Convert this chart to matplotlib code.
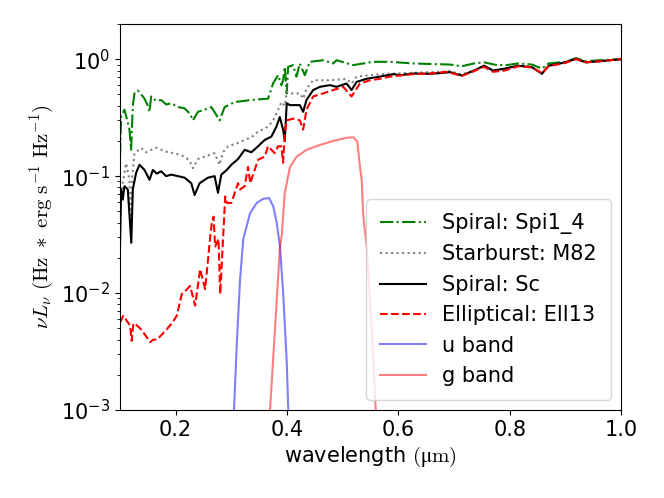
import numpy as np
import matplotlib
matplotlib.use('Agg')
import matplotlib.pyplot as plt

plt.rcParams['font.size'] = 15
plt.rcParams['mathtext.fontset'] = 'cm'

# template spectra (wavelength in micron, normalised nuLnu)
spi_wl = [0.100, 0.102, 0.108, 0.113, 0.117, 0.120, 0.123, 0.126, 0.132, 0.138,
          0.144, 0.150, 0.153, 0.156, 0.165, 0.174, 0.183, 0.192, 0.204, 0.216,
          0.226, 0.231, 0.240, 0.252, 0.264, 0.272, 0.279, 0.288, 0.306, 0.336,
          0.366, 0.375, 0.384, 0.390, 0.393, 0.396, 0.3995, 0.402, 0.411, 0.417,
          0.423, 0.432, 0.441, 0.465, 0.483, 0.489, 0.519, 0.555, 0.585, 0.626,
          0.657, 0.693, 0.714, 0.736, 0.754, 0.777, 0.795, 0.815, 0.840, 0.858,
          0.870, 0.900, 0.919, 0.937, 0.961, 1.0]
spi_flux = [0.147, 0.32, 0.37, 0.30, 0.25, 0.168, 0.40, 0.51, 0.54, 0.50,
            0.46, 0.40, 0.355, 0.48, 0.44, 0.448, 0.41, 0.42, 0.39, 0.38,
            0.34, 0.30, 0.355, 0.37, 0.39, 0.34, 0.30, 0.39, 0.43, 0.448,
            0.46, 0.62, 0.73, 0.60, 0.66, 0.86, 0.51, 0.86, 0.89, 0.71,
            0.92, 0.73, 0.95, 0.98, 0.92, 0.98, 0.89, 0.95, 0.95, 0.92,
            0.91, 0.90, 0.87, 0.92, 0.94, 0.89, 0.89, 0.92, 0.90, 0.83,
            0.92, 0.95, 1.02, 0.96, 0.98, 1.0]

m82_wl = [0.100, 0.105, 0.111, 0.117, 0.120, 0.122, 0.126, 0.132, 0.138, 0.147,
          0.156, 0.165, 0.174, 0.186, 0.198, 0.216, 0.225, 0.231, 0.240, 0.252,
          0.270, 0.279, 0.285, 0.294, 0.309, 0.324, 0.336, 0.348, 0.366, 0.375,
          0.384, 0.390, 0.396, 0.3995, 0.405, 0.423, 0.429, 0.435, 0.447, 0.477,
          0.507, 0.516, 0.525, 0.567, 0.627, 0.657, 0.693, 0.714, 0.736, 0.754,
          0.770, 0.791, 0.815, 0.840, 0.858, 0.870, 0.900, 0.919, 0.937, 0.961, 1.0]
m82_flux = [0.045, 0.087, 0.129, 0.093, 0.027, 0.10, 0.157, 0.165, 0.174, 0.160,
            0.168, 0.175, 0.168, 0.160, 0.157, 0.147, 0.135, 0.117, 0.140, 0.147,
            0.157, 0.125, 0.160, 0.18, 0.19, 0.204, 0.215, 0.24, 0.265, 0.30,
            0.368, 0.43, 0.40, 0.53, 0.51, 0.51, 0.46, 0.56, 0.66, 0.66,
            0.68, 0.62, 0.71, 0.745, 0.765, 0.775, 0.79, 0.74, 0.80, 0.88,
            0.80, 0.83, 0.88, 0.855, 0.76, 0.88, 0.94, 1.01, 0.94, 0.96, 1.0]

sc_wl = [0.100, 0.102, 0.105, 0.108, 0.114, 0.1203, 0.123, 0.129, 0.135, 0.144,
         0.153, 0.159, 0.166, 0.174, 0.183, 0.192, 0.204, 0.216, 0.228, 0.234,
         0.243, 0.258, 0.270, 0.276, 0.282, 0.291, 0.300, 0.312, 0.324, 0.336,
         0.348, 0.360, 0.372, 0.381, 0.387, 0.390, 0.393, 0.396, 0.3995, 0.405,
         0.423, 0.429, 0.435, 0.447, 0.459, 0.477, 0.489, 0.507, 0.516, 0.525,
         0.543, 0.567, 0.591, 0.603, 0.627, 0.657, 0.675, 0.693, 0.714, 0.736,
         0.754, 0.770, 0.791, 0.815, 0.840, 0.858, 0.870, 0.900, 0.919, 0.937,
         0.961, 1.0]
sc_flux = [0.025, 0.077, 0.063, 0.082, 0.077, 0.027, 0.077, 0.107, 0.125, 0.113,
           0.093, 0.113, 0.105, 0.110, 0.100, 0.103, 0.100, 0.097, 0.087, 0.069,
           0.087, 0.097, 0.100, 0.072, 0.103, 0.112, 0.125, 0.14, 0.168, 0.160,
           0.18, 0.204, 0.218, 0.265, 0.32, 0.283, 0.25, 0.20, 0.42, 0.405,
           0.405, 0.355, 0.448, 0.545, 0.58, 0.60, 0.58, 0.62, 0.545, 0.64,
           0.68, 0.71, 0.745, 0.73, 0.755, 0.75, 0.76, 0.775, 0.725, 0.80,
           0.88, 0.80, 0.83, 0.88, 0.855, 0.75, 0.88, 0.94, 1.01, 0.94,
           0.96, 1.0]

ell_wl = [0.100, 0.106, 0.112, 0.118, 0.121, 0.124, 0.130, 0.136, 0.142, 0.148,
          0.154, 0.160, 0.166, 0.175, 0.184, 0.193, 0.202, 0.211, 0.218, 0.226,
          0.235, 0.244, 0.253, 0.262, 0.265, 0.268, 0.271, 0.277, 0.280, 0.286,
          0.289, 0.292, 0.300, 0.312, 0.316, 0.324, 0.330, 0.334, 0.336, 0.348,
          0.360, 0.366, 0.378, 0.384, 0.390, 0.393, 0.396, 0.3995, 0.411, 0.423,
          0.429, 0.435, 0.447, 0.465, 0.483, 0.501, 0.516, 0.531, 0.549, 0.567,
          0.585, 0.609, 0.627, 0.657, 0.687, 0.714, 0.736, 0.754, 0.770, 0.791,
          0.815, 0.840, 0.858, 0.870, 0.900, 0.919, 0.937, 0.961, 1.0]
ell_flux = [0.0056, 0.0064, 0.0058, 0.0053, 0.0039, 0.0055, 0.0053, 0.0050, 0.0046, 0.0042,
            0.0038, 0.0040, 0.0040, 0.0044, 0.0049, 0.0055, 0.0064, 0.0098, 0.0105, 0.0115,
            0.0078, 0.016, 0.0108, 0.030, 0.040, 0.045, 0.025, 0.029, 0.0098, 0.035,
            0.067, 0.059, 0.059, 0.087, 0.077, 0.082, 0.12, 0.087, 0.093, 0.138,
            0.147, 0.18, 0.157, 0.18, 0.18, 0.13, 0.23, 0.30, 0.31, 0.30,
            0.25, 0.37, 0.48, 0.51, 0.545, 0.58, 0.48, 0.62, 0.66, 0.68,
            0.71, 0.73, 0.745, 0.755, 0.78, 0.72, 0.79, 0.86, 0.78, 0.80,
            0.87, 0.85, 0.76, 0.87, 0.93, 1.0, 0.94, 0.96, 1.0]

# SDSS filter curves (scaled)
u_wl = [0.303, 0.3048, 0.3096, 0.3156, 0.3215, 0.3335, 0.3456, 0.3574, 0.3677,
        0.3754, 0.3815, 0.3874, 0.3934, 0.3995, 0.4023, 0.404]
u_resp = [0.0003, 0.001, 0.0035, 0.013, 0.029, 0.048, 0.059, 0.064, 0.065,
          0.055, 0.040, 0.025, 0.0095, 0.0026, 0.001, 0.0003]

g_wl = [0.367, 0.3695, 0.3784, 0.3874, 0.3905, 0.396, 0.4054, 0.4174, 0.4354,
        0.4593, 0.4832, 0.5072, 0.5191, 0.5263, 0.5311, 0.5342, 0.5371, 0.5432,
        0.5522, 0.5594, 0.562]
g_resp = [0.0003, 0.001, 0.0049, 0.025, 0.031, 0.072, 0.12, 0.147, 0.168,
          0.185, 0.20, 0.213, 0.215, 0.197, 0.12, 0.093, 0.045, 0.025,
          0.0049, 0.001, 0.0003]

fig = plt.figure(figsize=(6.64, 4.98), dpi=100)
ax = fig.add_axes([120 / 664, 88 / 498, 501 / 664, 386 / 498])

ax.plot(spi_wl, spi_flux, 'g-.', label='Spiral: Spi1_4')
ax.plot(m82_wl, m82_flux, ':', color='gray', label='Starburst: M82')
ax.plot(sc_wl, sc_flux, 'k-', label='Spiral: Sc')
ax.plot(ell_wl, ell_flux, 'r--', label='Elliptical: Ell13')
ax.plot(u_wl, u_resp, 'b-', alpha=0.5, label='u band')
ax.plot(g_wl, g_resp, 'r-', alpha=0.5, label='g band')

ax.set_yscale('log')
ax.set_xlim(0.1, 1.0)
ax.set_ylim(1e-3, 2.0)
ax.set_xticks([0.2, 0.4, 0.6, 0.8, 1.0])
ax.set_xlabel(r'wavelength $(\mathrm{μm})$')
ax.set_ylabel(r'$\nu L_{\nu}\ (\mathrm{Hz}\ *\ \mathrm{erg\ s^{-1}\ Hz^{-1}})$')
ax.legend(loc='lower right', borderpad=0.65, handlelength=2.2)

fig.savefig('out.png', dpi=100)
